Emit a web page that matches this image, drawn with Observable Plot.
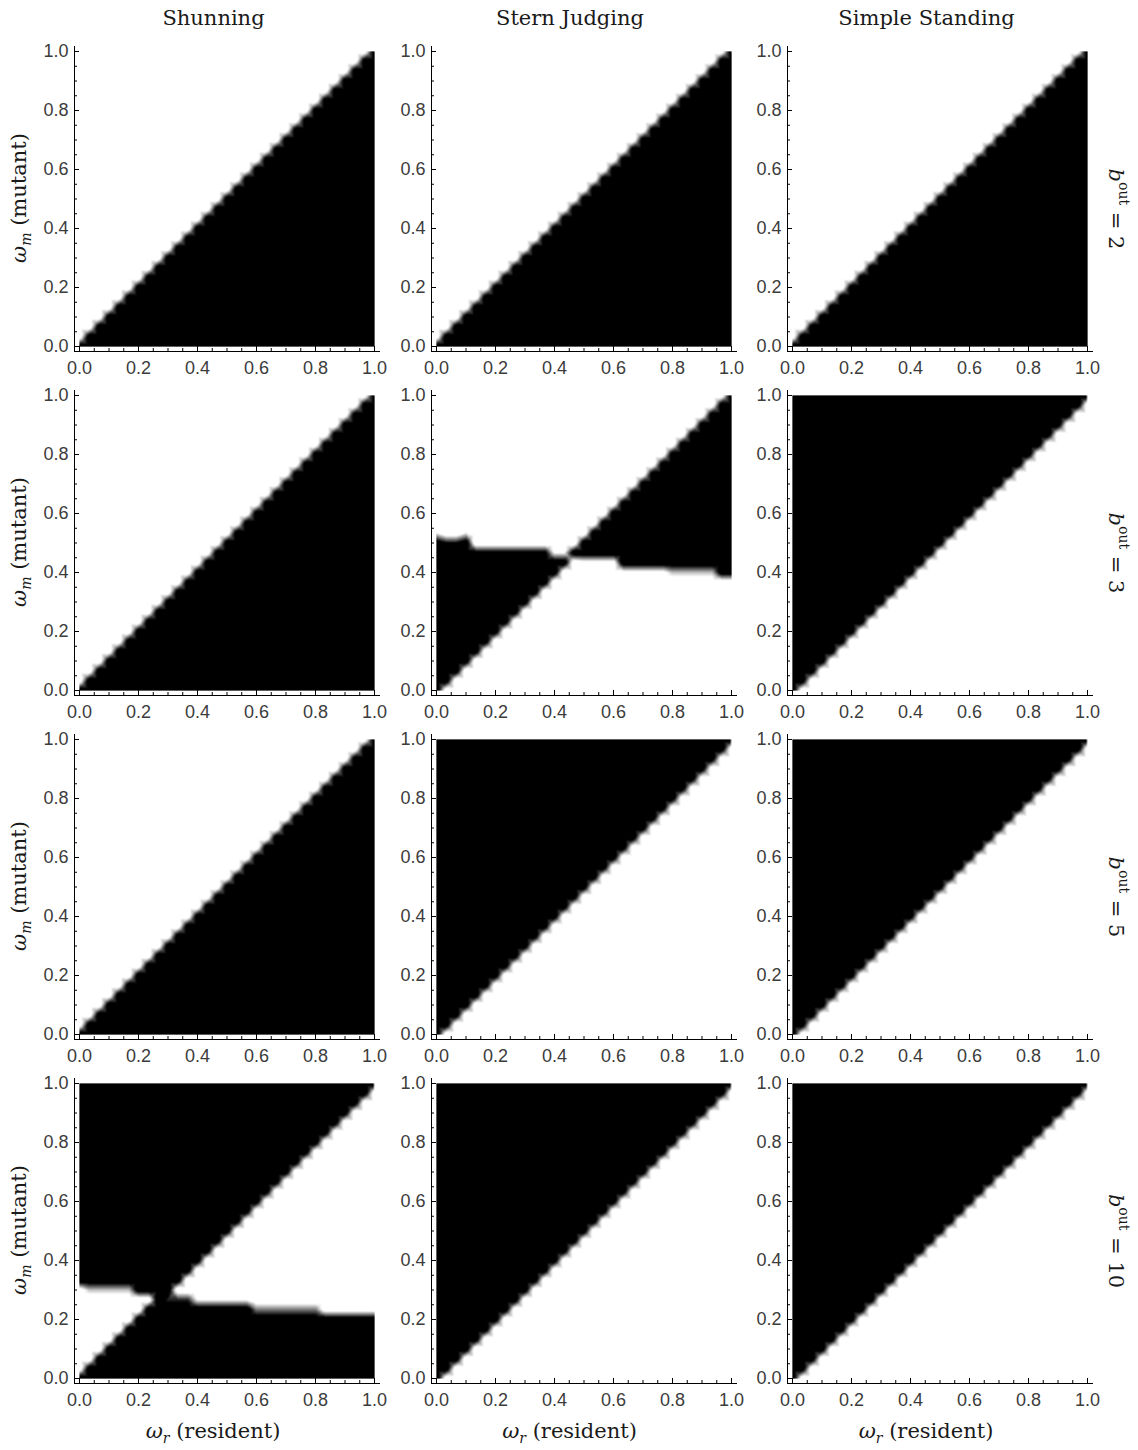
<!DOCTYPE html>
<html><head><meta charset="utf-8">
<script src="https://cdn.jsdelivr.net/npm/d3@7"></script>
<script src="https://cdn.jsdelivr.net/npm/@observablehq/plot@0.6"></script>
<style>
html,body{margin:0;padding:0;background:#fff;}
#root{position:relative;width:1138px;height:1450px;overflow:hidden;background:#fff;}
.panel{position:absolute;}
.title,.xlab{position:absolute;font-family:"DejaVu Serif",serif;font-size:21px;color:#1a1a1a;transform:translateX(-50%);white-space:nowrap;line-height:1;}
.ylab{position:absolute;font-family:"DejaVu Serif",serif;font-size:21px;color:#1a1a1a;white-space:nowrap;line-height:1;transform:translate(-50%,-50%) rotate(-90deg);}
.rowlab{position:absolute;font-family:"DejaVu Serif",serif;font-size:21px;color:#1a1a1a;white-space:nowrap;line-height:1;writing-mode:vertical-rl;transform:translate(-50%,-50%);}
.rowlab sup{font-size:14px;}
sub{font-size:14px;}
</style></head><body>
<div id="root"></div>
<script>
// column and row headers
const schemes = ["Shunning", "Stern Judging", "Simple Standing"];
const benefits = [2, 3, 5, 10];
// invasion region of each panel (rows = b_out, columns = scheme)
// below: mutant invades when ωm < ωr ; above: when ωm > ωr
// between: invades when ωm lies between ωr and a threshold ; outside: when it does not
const regimes = [
  ["below", "below", "below"],
  ["below", "between", "above"],
  ["below", "above", "above"],
  ["outside", "above", "above"]
];
// thresholds (piecewise constant in ωr)
const sjB3Edges  = [0, 0.03, 0.07, 0.12, 0.38, 0.50, 0.61, 0.80, 0.94, 1.0];
const sjB3Levels = [0.525, 0.51, 0.525, 0.48, 0.457, 0.447, 0.413, 0.405, 0.385];
const shB10Edges  = [0, 0.03, 0.17, 0.20, 0.29, 0.39, 0.59, 0.82, 1.0];
const shB10Levels = [0.315, 0.305, 0.30, 0.285, 0.274, 0.257, 0.234, 0.219];
const thresholds = {"3|Stern Judging": [sjB3Edges, sjB3Levels], "10|Shunning": [shB10Edges, shB10Levels]};
// sampling of the ωr × ωm plane: N intervals on each axis
const N = 30;
// tick values
const majorTicks = [0, 0.2, 0.4, 0.6, 0.8, 1.0];
const minorTicks = [0.05, 0.1, 0.15, 0.25, 0.3, 0.35, 0.45, 0.5, 0.55, 0.65, 0.7, 0.75, 0.85, 0.9, 0.95];

function lookup(edges, levels, x) {
  for (let k = 0; k < levels.length; k++) if (x < edges[k + 1]) return levels[k];
  return levels[levels.length - 1];
}
const clamp01 = v => Math.max(0, Math.min(1, v));
// 1 = mutant invades (black), 0 = it does not (white); neutral diagonal counts as invading.
// Near a threshold the value is the scaled distance to it, so the drawn edge sits at the threshold.
function samples(regime, thr) {
  const pts = [];
  for (let j = 0; j <= N; j++) {
    for (let i = 0; i <= N; i++) {
      const x = i / N, y = j / N;
      const below = i > j;
      let v;
      if (i === j) v = 1;
      else if (regime === "below") v = below ? 1 : 0;
      else if (regime === "above") v = below ? 0 : 1;
      else {
        const t = lookup(thr[0], thr[1], x);
        const under = 0.5 + (t - y) * N, over = 0.5 + (y - t) * N;
        if (regime === "between") v = clamp01(below ? over : under);
        else v = clamp01(below ? under : over);
      }
      pts.push({x, y, v});
    }
  }
  return pts;
}

const root = document.getElementById("root");
const colStep = 356.5, rowStep = 344, left0 = 34, top0 = 41;
const fmt = d3.format(".1f");
// tiny shears choose how the regular grid is triangulated (rising vs falling cell diagonals)
const shear = 0.002;

benefits.forEach((b, r) => {
  schemes.forEach((s, c) => {
    const pts = samples(regimes[r][c], thresholds[b + "|" + s]);
    const svg = Plot.plot({
      width: 353, height: 340,
      marginLeft: 40, marginRight: 8, marginTop: 5, marginBottom: 30,
      x: {domain: [0, 1], inset: 5},
      y: {domain: [0, 1], inset: 5},
      color: {type: "linear", domain: [0.2, 0.8], range: ["#ffffff", "#000000"], clamp: true},
      style: {background: "transparent", overflow: "visible", fontFamily: "'Liberation Sans', Arial, sans-serif"},
      marks: [
        Plot.raster(pts, {x: d => d.x - shear * d.y, y: "y", fill: "v", x1: 0, x2: 1, y1: 0, y2: 1, interpolate: "barycentric"}),
        Plot.raster(pts, {x: d => d.x + shear * d.y, y: "y", fill: "v", x1: 0, x2: 1, y1: 0, y2: 1, interpolate: "barycentric", opacity: 0.5}),
        Plot.frame({anchor: "left", stroke: "#000"}),
        Plot.frame({anchor: "bottom", stroke: "#000"}),
        Plot.axisX(majorTicks, {tickSize: -5, tickPadding: 15, tickFormat: fmt, fontSize: 18, fill: "#3c3c3c", stroke: "#000", label: null}),
        Plot.axisX(minorTicks, {tickSize: -3, tickPadding: 0, tickFormat: () => "", stroke: "#000", label: null}),
        Plot.axisY(majorTicks, {tickSize: -5, tickPadding: 11, tickFormat: fmt, fontSize: 18, fill: "#3c3c3c", stroke: "#000", label: null}),
        Plot.axisY(minorTicks, {tickSize: -3, tickPadding: 0, tickFormat: () => "", stroke: "#000", label: null})
      ]
    });
    svg.classList.add("panel");
    svg.style.left = (left0 + c * colStep) + "px";
    svg.style.top = (top0 + r * rowStep) + "px";
    root.appendChild(svg);
  });
  const rl = document.createElement("div");
  rl.className = "rowlab";
  rl.innerHTML = `<i>b</i><sup>out</sup> = ${b}`;
  rl.style.left = "1118px";
  rl.style.top = (209 + r * rowStep) + "px";
  root.appendChild(rl);
  const yl = document.createElement("div");
  yl.className = "ylab";
  yl.innerHTML = `<i>ω</i><sub><i>m</i></sub> (mutant)`;
  yl.style.left = "21px";
  yl.style.top = (198 + r * rowStep) + "px";
  root.appendChild(yl);
});
schemes.forEach((s, c) => {
  const t = document.createElement("div");
  t.className = "title";
  t.textContent = s;
  t.style.left = (213.5 + c * colStep) + "px";
  t.style.top = "8px";
  root.appendChild(t);
  const xl = document.createElement("div");
  xl.className = "xlab";
  xl.innerHTML = `<i>ω</i><sub><i>r</i></sub> (resident)`;
  xl.style.left = (213 + c * colStep) + "px";
  xl.style.top = "1421px";
  root.appendChild(xl);
});
</script>
</body></html>
